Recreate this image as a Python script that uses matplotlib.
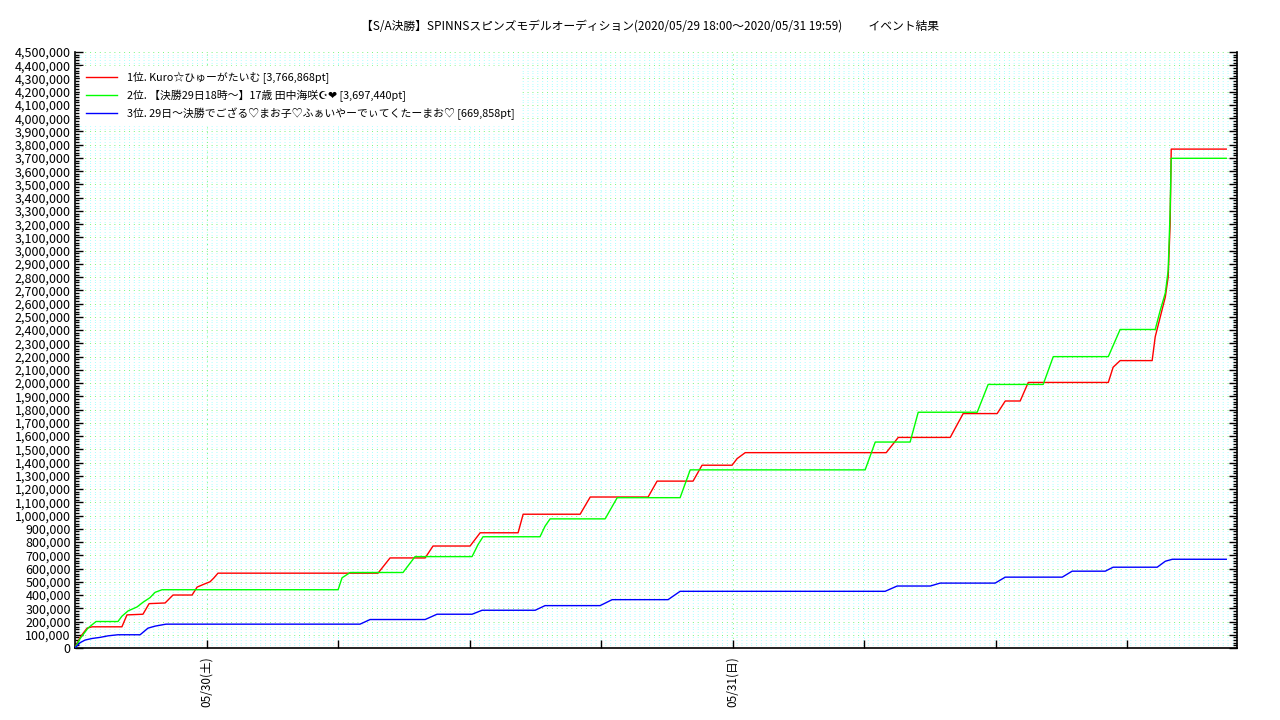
import matplotlib
matplotlib.use("Agg")
import matplotlib.pyplot as plt
from matplotlib.ticker import FixedLocator, MultipleLocator, FuncFormatter

plt.rcParams['font.family'] = ['Noto Sans CJK JP', 'DejaVu Sans']

# hours elapsed since 2020/05/29 18:00
red_h = [0, 0.23, 0.55, 0.78, 2.14, 2.37, 3.10, 3.38, 4.11, 4.47, 5.34, 5.57, 5.93, 6.16, 6.34, 6.52,
         13.82, 14.37, 15.97, 16.33, 18.02, 18.48, 20.21, 20.44, 23.04, 23.50, 26.14, 26.55,
         28.19, 28.60, 29.97, 30.20, 30.57, 37.00, 37.55, 39.92, 40.51, 42.06, 42.43, 43.11,
         43.48, 47.13, 47.35, 47.67, 49.13, 49.27, 49.50, 49.73, 49.86, 49.95, 50.00, 52.51]
red_v = [0, 80000, 150000, 160000, 160000, 250000, 255000, 335000, 340000, 400000, 400000, 460000,
         485000, 500000, 530000, 565000, 565000, 680000, 680000, 770000, 770000, 870000, 870000,
         1010000, 1010000, 1140000, 1140000, 1260000, 1260000, 1380000, 1380000, 1430000, 1475000,
         1475000, 1590000, 1590000, 1770000, 1770000, 1865000, 1865000, 2005000, 2005000, 2120000,
         2170000, 2170000, 2350000, 2500000, 2650000, 2800000, 3200000, 3766868, 3766868]

green_h = [0, 0.23, 0.59, 0.96, 1.96, 2.14, 2.42, 2.83, 3.10, 3.42, 3.65, 3.97, 12.00, 12.18, 12.55,
           14.96, 15.51, 18.11, 18.38, 18.61, 21.21, 21.44, 21.67, 24.18, 24.73, 27.60, 28.06,
           36.04, 36.50, 38.09, 38.46, 41.15, 41.65, 44.16, 44.62, 47.13, 47.67, 49.27, 49.50,
           49.73, 49.86, 49.95, 50.00, 52.51]
green_v = [0, 70000, 150000, 200000, 200000, 240000, 280000, 310000, 345000, 380000, 420000, 440000,
           440000, 530000, 570000, 570000, 690000, 690000, 780000, 840000, 840000, 920000, 975000,
           975000, 1135000, 1135000, 1345000, 1345000, 1555000, 1555000, 1780000, 1780000, 1990000,
           1990000, 2200000, 2200000, 2405000, 2405000, 2550000, 2680000, 2850000, 3300000, 3697440,
           3697440]

blue_h = [0, 0.23, 0.46, 0.78, 1.14, 1.51, 1.96, 2.97, 3.33, 3.65, 4.15, 13.00, 13.46, 15.97, 16.51,
          18.11, 18.57, 20.99, 21.44, 23.95, 24.50, 27.05, 27.60, 36.95, 37.50, 39.01, 39.46,
          41.97, 42.43, 45.03, 45.48, 46.99, 47.35, 49.36, 49.73, 50.05, 52.51]
blue_v = [0, 40000, 60000, 72000, 80000, 92000, 100000, 100000, 150000, 165000, 180000, 180000,
          215000, 215000, 255000, 255000, 285000, 285000, 320000, 320000, 365000, 365000, 428000,
          428000, 468000, 468000, 490000, 490000, 535000, 535000, 580000, 580000, 610000, 610000,
          655000, 670000, 669858]

series_labels = ["1位. Kuro☆ひゅーがたいむ [3,766,868pt]",
                 "2位. 【決勝29日18時～】17歳 田中海咲☪❤ [3,697,440pt]",
                 "3位. 29日～決勝でござる♡まお子♡ふぁいやーでぃてくたーまお♡ [669,858pt]"]
date_ticks = [6, 30]
date_labels = ["05/30(土)", "05/31(日)"]
title = "【S/A決勝】SPINNSスピンズモデルオーディション(2020/05/29 18:00～2020/05/31 19:59)          イベント結果"

fig = plt.figure(figsize=(12.8, 7.2), dpi=100)
ax = fig.add_axes([75/1280, 72/720, (1237-75)/1280, (648-52)/720])

ax.set_xlim(0, 53.0)
ax.set_ylim(0, 4500000)

# grid
for yv in range(0, 4500001, 20000):
    if yv % 100000 == 0:
        ax.axhline(yv, color='#7af57a', lw=0.7, ls=(0, (1, 4)), zorder=0)
    else:
        ax.axhline(yv, color='#a8ffff', lw=0.7, ls=(0, (1, 4)), zorder=0)
for xv in range(6, 53, 6):
    c = '#7af57a' if xv in date_ticks else '#a8ffff'
    ax.axvline(xv, color=c, lw=0.7, ls=(0, (1, 4)), zorder=0)

ax.plot(red_h, red_v, color='#ff0000', lw=1.0, label=series_labels[0], zorder=3)
ax.plot(green_h, green_v, color='#00ff00', lw=1.0, label=series_labels[1], zorder=3)
ax.plot(blue_h, blue_v, color='#0000ff', lw=1.0, label=series_labels[2], zorder=3)

ax.yaxis.set_major_locator(MultipleLocator(100000))
ax.yaxis.set_minor_locator(MultipleLocator(20000))
ax.yaxis.set_major_formatter(FuncFormatter(lambda v, p: f"{int(round(v)):,}"))
ax.tick_params(axis='y', which='major', direction='in', length=6, width=1,
               left=True, right=True, labelsize=9, pad=3)
ax.tick_params(axis='y', which='minor', direction='in', length=3, width=1, left=True, right=True)

ax.xaxis.set_major_locator(FixedLocator(list(range(6, 53, 6))))
ax.set_xticklabels([date_labels[date_ticks.index(t)] if t in date_ticks else ""
                    for t in range(6, 53, 6)], rotation=90, fontsize=8.5)
ax.tick_params(axis='x', which='major', direction='in', length=6, width=1, top=False, pad=6)

for s in ['left', 'right', 'bottom']:
    ax.spines[s].set_linewidth(1.2)
ax.spines['top'].set_visible(False)

leg = ax.legend(loc='upper left', bbox_to_anchor=(0.0, 0.985), frameon=True, fontsize=7.8,
                handlelength=2.9, handletextpad=0.9, labelspacing=0.5, borderpad=0.5)
leg.get_frame().set_facecolor('white')
leg.get_frame().set_edgecolor('white')
leg.get_frame().set_alpha(1.0)
leg.set_zorder(5)

fig.text(650/1280, 1 - 26/720, title, ha='center', va='center', fontsize=8.5)

fig.savefig("out.png", dpi=100)
